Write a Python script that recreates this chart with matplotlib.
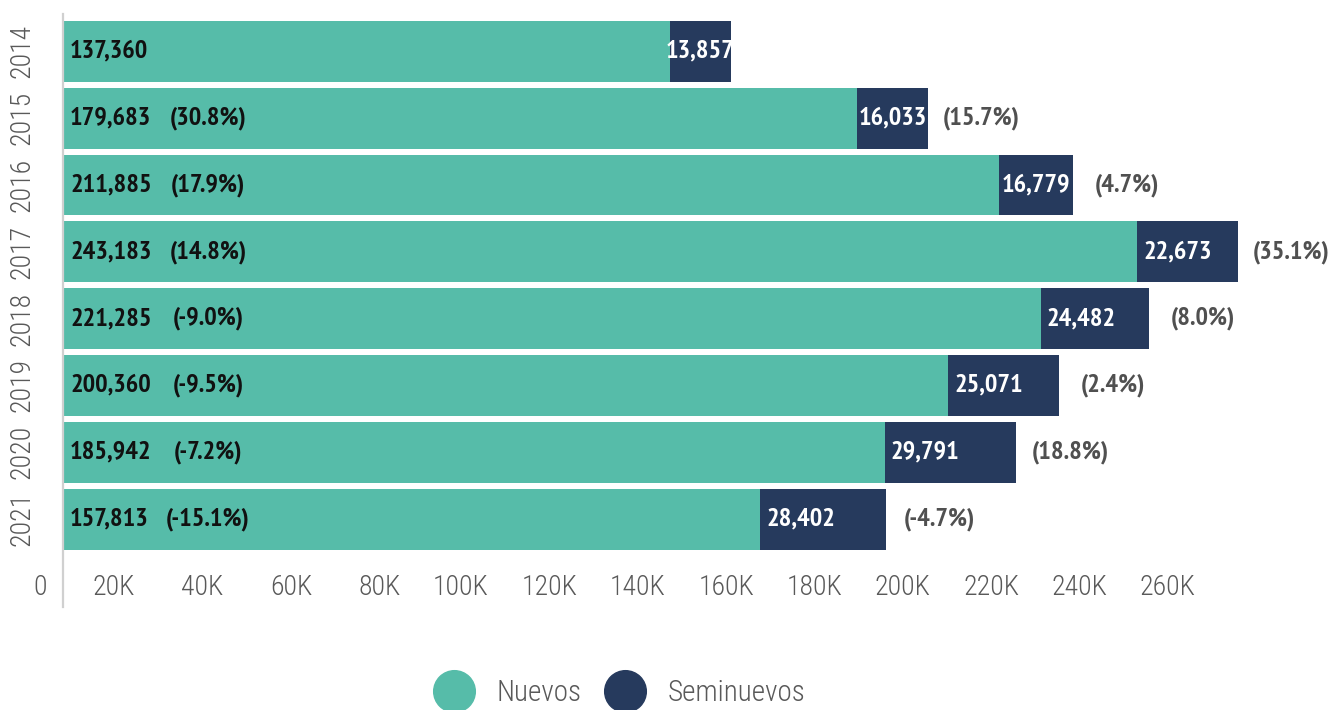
import numpy as np
import matplotlib
matplotlib.use("Agg")
import matplotlib.pyplot as plt
from matplotlib import font_manager as fm
from matplotlib.lines import Line2D
from matplotlib.transforms import ScaledTranslation


def as_num(w):
    return w if isinstance(w, (int, float)) else fm.weight_dict.get(w, 400)


def pick(cands, max_weight=None):
    for c in cands:
        ws = [as_num(f.weight) for f in fm.fontManager.ttflist if f.name == c]
        if ws and (max_weight is None or min(ws) <= max_weight):
            return c
    return None


label_font = pick(["PT Sans Narrow", "Roboto Condensed", "Archivo Narrow", "Asap Condensed"]) or "DejaVu Sans"
axis_font = pick(["Roboto Condensed", "Barlow Condensed", "Asap Condensed", "Encode Sans Condensed"], 300)
axis_weight = "light"
if axis_font is None:
    axis_font = pick(["PT Sans Narrow"]) or "DejaVu Sans"
    axis_weight = "normal"
plt.rcParams['font.family'] = [axis_font, 'DejaVu Sans']

# Data
years = ["2014", "2015", "2016", "2017", "2018", "2019", "2020", "2021"]
nuevos = [137360, 179683, 211885, 243183, 221285, 200360, 185942, 157813]
seminuevos = [13857, 16033, 16779, 22673, 24482, 25071, 29791, 28402]
nuevos_pct = ["", "(30.8%)", "(17.9%)", "(14.8%)", "(-9.0%)", "(-9.5%)", "(-7.2%)", "(-15.1%)"]
semi_pct = ["", "(15.7%)", "(4.7%)", "(35.1%)", "(8.0%)", "(2.4%)", "(18.8%)", "(-4.7%)"]
xticks = [0, 20000, 40000, 60000, 80000, 100000, 120000, 140000, 160000,
          180000, 200000, 220000, 240000, 260000]
xtick_labels = ["0", "20K", "40K", "60K", "80K", "100K", "120K", "140K", "160K",
                "180K", "200K", "220K", "240K", "260K"]

teal = "#56BCA9"
navy = "#263A5D"
gray = "#595959"

fig = plt.figure(figsize=(13.32, 7.10), dpi=100)
ax = fig.add_axes([0.0473, 0.1451, 0.9288, 0.8352])

y = np.arange(len(years))
ax.barh(y, nuevos, height=0.91, color=teal)
ax.barh(y, seminuevos, left=nuevos, height=0.91, color=navy)

lbl_kw = dict(fontsize=19, fontweight="bold", family=[label_font, "DejaVu Sans"], va="center")
for i in range(len(years)):
    ax.text(1600, i, f"{nuevos[i]:,}", ha="left", color="#111111", **lbl_kw)
    if nuevos_pct[i]:
        ax.text(32800, i, nuevos_pct[i], ha="center", color="#111111", **lbl_kw)
    xs = nuevos[i] + min(seminuevos[i] / 2, 9200)
    ax.text(xs, i, f"{seminuevos[i]:,}", ha="center", color="white", **lbl_kw)
    if semi_pct[i]:
        total = nuevos[i] + seminuevos[i]
        ax.text(total + 12200, i, semi_pct[i], ha="center", color="#505050", **lbl_kw)

ax.set_xlim(0, 280000)
ax.set_ylim(7 + 1.315, -0.56)

ax.set_xticks(xticks)
ax.set_xticklabels(xtick_labels, fontsize=20, color=gray, ha="right", fontweight=axis_weight)
ax.tick_params(axis="x", length=0, pad=-24)
shift = ScaledTranslation(-16 / 100, 0, fig.dpi_scale_trans)
for lbl in ax.get_xticklabels():
    lbl.set_transform(lbl.get_transform() + shift)

ax.set_yticks(y)
ax.set_yticklabels(years, fontsize=20, color=gray, rotation=90, va="center", fontweight=axis_weight)
ax.tick_params(axis="y", length=0, pad=20)

for side in ["top", "right", "bottom"]:
    ax.spines[side].set_visible(False)
ax.spines["left"].set_color("#D0D0D0")
ax.spines["left"].set_linewidth(1.6)

handles = [
    Line2D([], [], marker="o", linestyle="none", markersize=30, color=teal),
    Line2D([], [], marker="o", linestyle="none", markersize=30, color=navy),
]
fig.legend(handles, ["Nuevos", "Seminuevos"], loc="center",
           bbox_to_anchor=(0.465, 0.024), ncol=2, frameon=False,
           prop={"family": [axis_font, "DejaVu Sans"], "weight": axis_weight, "size": 21},
           labelcolor=gray, handlelength=1.4,
           handletextpad=0.75, columnspacing=0.8)

plt.savefig("out.png", dpi=100)
